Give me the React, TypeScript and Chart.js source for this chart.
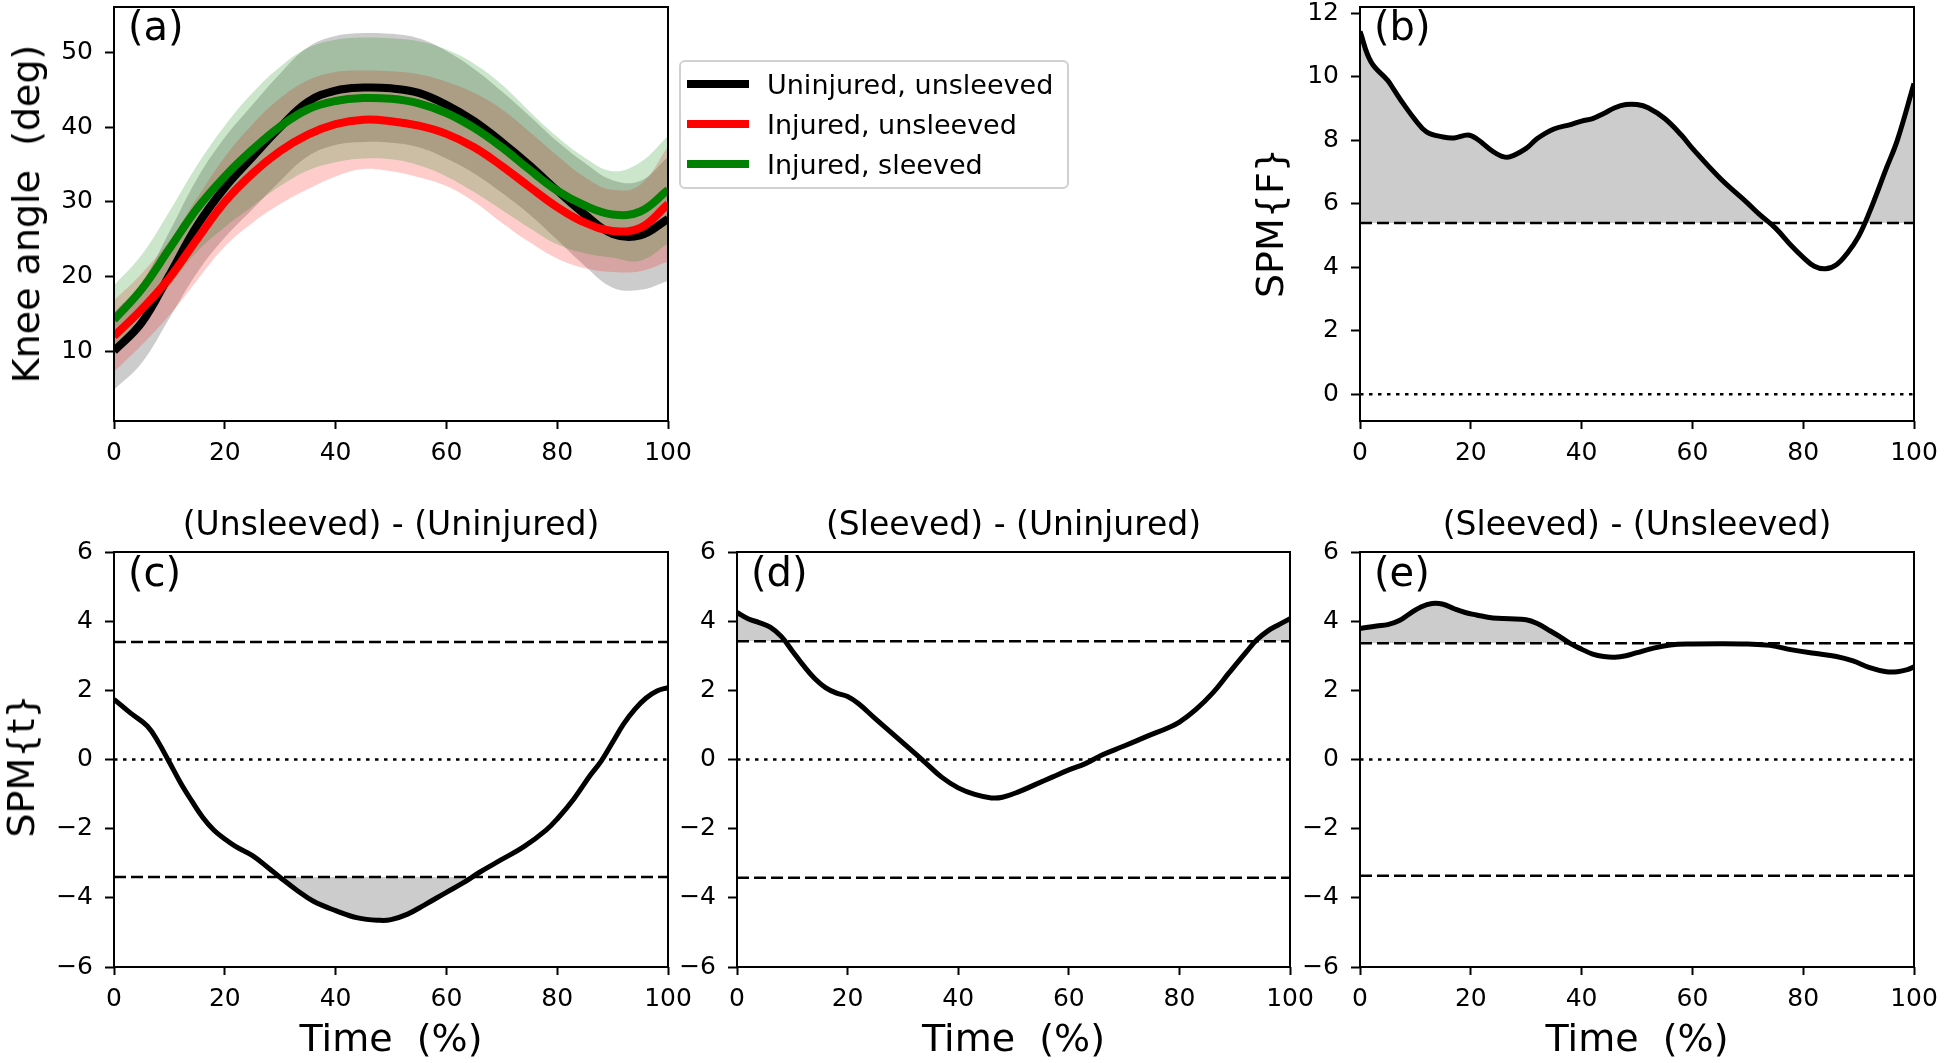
import React, { useEffect, useRef } from 'react';
import { Chart, registerables } from 'chart.js';

Chart.register(...registerables);

const FONT = "'DejaVu Sans', 'Liberation Sans', sans-serif";
const GRAY = '#cccccc';

// ---------- Panel (a): knee angle (deg) ----------
const timeA = [0, 5, 10, 15, 20, 25, 30, 35, 40, 45, 50, 55, 60, 65, 70, 75, 80, 85, 90, 95, 100];
const uninjuredMean = [10.0, 13.8, 20.2, 26.8, 31.9, 36.0, 40.0, 43.4, 44.9, 45.3, 45.2, 44.6, 43.0, 40.8, 38.0, 34.9, 31.5, 28.3, 25.7, 25.5, 27.7];
const uninjuredSd = [5.2, 5.4, 5.8, 6.3, 6.7, 7.0, 7.2, 7.3, 7.3, 7.3, 7.3, 7.3, 7.2, 7.0, 6.8, 6.6, 6.6, 6.9, 7.2, 7.3, 8.3];
const injuredMean = [12.0, 15.6, 19.8, 25.0, 30.0, 33.8, 36.8, 39.0, 40.4, 41.0, 40.8, 40.2, 39.1, 37.3, 34.8, 32.0, 29.3, 27.2, 26.1, 26.5, 29.7];
const injuredSd = [4.8, 4.8, 5.0, 5.5, 6.0, 6.6, 7.1, 7.3, 7.0, 6.6, 6.7, 6.9, 7.0, 7.3, 7.6, 7.4, 6.9, 6.1, 5.5, 5.8, 7.7];
const sleevedMean = [14.2, 18.3, 23.7, 29.1, 33.4, 37.0, 40.1, 42.4, 43.5, 43.9, 43.8, 43.2, 41.9, 39.9, 37.3, 34.3, 31.5, 29.5, 28.3, 28.7, 31.6];
const sleevedSd = [4.6, 4.6, 5.0, 5.8, 6.8, 7.6, 8.0, 8.2, 8.2, 8.1, 8.1, 8.3, 8.5, 8.6, 8.4, 7.8, 7.2, 6.4, 5.8, 6.6, 7.2];
const legendLabels = ['Uninjured, unsleeved', 'Injured, unsleeved', 'Injured, sleeved'];
const seriesColors = ['#000000', '#ff0000', '#008000'];
const bandColors = ['rgba(0,0,0,0.2)', 'rgba(255,0,0,0.2)', 'rgba(0,128,0,0.2)'];

// ---------- Panel (b): SPM{F} ----------
const timeB = [0, 2, 5, 6, 8, 10, 12, 15, 17, 19.5, 21, 24, 25.5, 27, 30, 32, 35, 38, 40, 42, 44, 46, 48, 50, 52, 55, 58, 60, 65, 70, 72, 75, 78, 80, 82, 84, 86, 88, 90, 92, 95, 97, 100];
const spmF = [11.42, 10.46, 9.88, 9.62, 9.1, 8.63, 8.26, 8.1, 8.07, 8.16, 8.05, 7.64, 7.5, 7.47, 7.74, 8.05, 8.35, 8.49, 8.6, 8.68, 8.84, 9.02, 9.12, 9.12, 9.02, 8.68, 8.16, 7.74, 6.8, 6.01, 5.68, 5.23, 4.65, 4.31, 4.03, 3.95, 4.08, 4.45, 4.97, 5.75, 7.11, 8.0, 9.78];
const thresholdF = 5.39;

// ---------- Panel (c): (Unsleeved) - (Uninjured) ----------
const timeC = [0, 3, 6, 8, 10, 12, 14, 16, 18, 20, 22, 25, 28, 30, 33, 36, 40, 44, 48, 50, 53, 56, 60, 63, 66, 70, 74, 78, 80, 83, 86, 88, 90, 92, 94, 96, 98, 100];
const spmTc = [1.74, 1.34, 0.97, 0.5, -0.08, -0.67, -1.19, -1.67, -2.04, -2.3, -2.52, -2.78, -3.15, -3.41, -3.78, -4.1, -4.37, -4.58, -4.65, -4.63, -4.47, -4.21, -3.84, -3.57, -3.26, -2.89, -2.52, -2.04, -1.72, -1.14, -0.45, -0.03, 0.5, 1.03, 1.45, 1.77, 1.98, 2.08];
const thresholdC = 3.4;

// ---------- Panel (d): (Sleeved) - (Uninjured) ----------
const timeD = [0, 2, 4, 6, 8, 10, 12, 14, 16, 18, 20, 22, 25, 28, 31, 34, 37, 40, 43, 46, 48, 51, 54, 57, 60, 63, 66, 70, 74, 78, 80, 83, 86, 89, 92, 94, 96, 98, 100];
const spmTd = [4.25, 4.07, 3.96, 3.83, 3.56, 3.14, 2.72, 2.35, 2.08, 1.92, 1.82, 1.61, 1.18, 0.76, 0.34, -0.08, -0.51, -0.82, -1.01, -1.11, -1.09, -0.93, -0.72, -0.51, -0.3, -0.12, 0.13, 0.39, 0.66, 0.92, 1.08, 1.45, 1.92, 2.51, 3.09, 3.46, 3.72, 3.9, 4.07];
const thresholdD = 3.42;

// ---------- Panel (e): (Sleeved) - (Unsleeved) ----------
const timeE = [0, 3, 5, 7, 9, 11, 13, 15, 17, 19, 21, 24, 27, 30, 32, 34, 36, 38, 40, 42, 44, 46, 48, 50, 53, 56, 60, 65, 70, 74, 78, 82, 86, 89, 92, 95, 97, 99, 100];
const spmTe = [3.79, 3.86, 3.9, 4.01, 4.22, 4.41, 4.51, 4.49, 4.36, 4.25, 4.18, 4.09, 4.07, 4.04, 3.93, 3.75, 3.56, 3.35, 3.19, 3.05, 2.98, 2.96, 3.0, 3.09, 3.22, 3.31, 3.34, 3.35, 3.34, 3.3, 3.17, 3.07, 2.98, 2.85, 2.66, 2.54, 2.54, 2.61, 2.68];
const thresholdE = 3.36;

const panelTitles = ['(Unsleeved) - (Uninjured)', '(Sleeved) - (Uninjured)', '(Sleeved) - (Unsleeved)'];

// ---------- layout ----------
type Box = { l: number; t: number; r: number; b: number };
const boxA: Box = { l: 114, t: 7, r: 668, b: 421 };
const boxB: Box = { l: 1360, t: 7, r: 1914, b: 421 };
const boxC: Box = { l: 114, t: 552, r: 668, b: 967 };
const boxD: Box = { l: 737, t: 552, r: 1290, b: 967 };
const boxE: Box = { l: 1360, t: 552, r: 1914, b: 967 };

const YW = 70, XH = 55, PADL = 4, PADT = 24, PADR = 32, PADB = 4;

function canvasRect(b: Box) {
  return {
    left: b.l - YW - PADL,
    top: b.t - PADT,
    width: b.r - b.l + YW + PADL + PADR,
    height: b.b - b.t + PADT + XH + PADB,
  };
}

const pts = (xs: number[], ys: number[]) => xs.map((x, i) => ({ x, y: ys[i] }));
const fmt = (v: number) => (v < 0 ? '\u2212' + Math.abs(v) : String(v));

const framePlugin = {
  id: 'frame',
  afterDatasetsDraw(chart: any) {
    const { ctx, chartArea: a } = chart;
    ctx.save();
    ctx.strokeStyle = '#000';
    ctx.lineWidth = 2;
    ctx.strokeRect(a.left, a.top, a.right - a.left, a.bottom - a.top);
    ctx.restore();
  },
};

function zeroPaddings(s: any) {
  s.paddingLeft = 0;
  s.paddingRight = 0;
  s.paddingTop = 0;
  s.paddingBottom = 0;
}

function baseOptions(ymin: number, ymax: number, ystep: number): any {
  const gridCfg = (len: number) => ({
    display: true,
    drawOnChartArea: false,
    drawTicks: true,
    tickLength: len,
    tickWidth: 2,
    tickColor: '#000',
    color: '#000',
  });
  return {
    animation: false,
    responsive: false,
    devicePixelRatio: 1,
    events: [],
    layout: { padding: { left: PADL, top: PADT, right: PADR, bottom: PADB } },
    elements: { line: { tension: 0.4, cubicInterpolationMode: 'default' } },
    plugins: {
      legend: { display: false },
      tooltip: { enabled: false },
      title: { display: false },
      filler: { drawTime: 'beforeDatasetsDraw', propagate: false },
    },
    scales: {
      x: {
        type: 'linear',
        min: 0,
        max: 100,
        ticks: {
          stepSize: 20,
          includeBounds: false,
          autoSkip: false,
          maxRotation: 0,
          padding: 9,
          color: '#000',
          font: { family: FONT, size: 25 },
          callback: (v: number) => fmt(v),
        },
        grid: gridCfg(8),
        border: { display: false },
        afterFit: (s: any) => {
          s.height = XH;
          zeroPaddings(s);
        },
      },
      y: {
        type: 'linear',
        min: ymin,
        max: ymax,
        ticks: {
          stepSize: ystep,
          includeBounds: false,
          padding: 12,
          color: '#000',
          font: { family: FONT, size: 25 },
          callback: (v: number) => fmt(v),
        },
        grid: gridCfg(9),
        border: { display: false },
        afterFit: (s: any) => {
          s.width = YW;
          zeroPaddings(s);
        },
      },
    },
  };
}

function hLine(y: number, dash: number[]) {
  return {
    data: [{ x: 0, y }, { x: 100, y }],
    borderColor: '#000',
    borderWidth: 2.5,
    borderDash: dash,
    pointRadius: 0,
    fill: false,
    tension: 0,
    order: 5,
  };
}

function configA(): any {
  const series = [
    [uninjuredMean, uninjuredSd],
    [injuredMean, injuredSd],
    [sleevedMean, sleevedSd],
  ];
  const datasets: any[] = [];
  series.forEach(([mean, sd], k) => {
    const base = datasets.length;
    datasets.push({
      label: legendLabels[k],
      data: pts(timeA, mean),
      borderColor: seriesColors[k],
      borderWidth: 8,
      pointRadius: 0,
      fill: false,
      clip: 0,
      order: 3 - k,
    });
    datasets.push({
      data: pts(timeA, mean.map((m, i) => m + sd[i])),
      borderColor: 'rgba(0,0,0,0)',
      borderWidth: 0,
      pointRadius: 0,
      fill: false,
      order: 6 - k,
    });
    datasets.push({
      data: pts(timeA, mean.map((m, i) => m - sd[i])),
      borderColor: 'rgba(0,0,0,0)',
      backgroundColor: bandColors[k],
      borderWidth: 0,
      pointRadius: 0,
      fill: base + 1,
      order: 6 - k,
    });
  });
  return { type: 'line', data: { datasets }, options: baseOptions(0.63, 56.1, 10), plugins: [framePlugin] };
}

function spmConfig(xs: number[], ys: number[], thr: number, twoSided: boolean, side: 'above' | 'below', ymin: number, ymax: number, ystep: number): any {
  const fillTarget = side === 'above' ? thr : -thr;
  const datasets: any[] = [
    {
      data: pts(xs, ys),
      borderColor: '#000',
      backgroundColor: GRAY,
      borderWidth: 5,
      pointRadius: 0,
      tension: 0.4,
      clip: 0,
      order: 1,
      fill: {
        target: { value: fillTarget },
        above: side === 'above' ? GRAY : 'rgba(0,0,0,0)',
        below: side === 'below' ? GRAY : 'rgba(0,0,0,0)',
      },
    },
    hLine(thr, [12, 5]),
    hLine(0, [3.5, 5.5]),
  ];
  if (twoSided) datasets.push(hLine(-thr, [12, 5]));
  return { type: 'line', data: { datasets }, options: baseOptions(ymin, ymax, ystep), plugins: [framePlugin] };
}

function ChartCanvas({ box, make }: { box: Box; make: () => any }) {
  const ref = useRef<HTMLCanvasElement | null>(null);
  useEffect(() => {
    if (!ref.current) return;
    const chart = new Chart(ref.current, make());
    return () => chart.destroy();
  }, []);
  const r = canvasRect(box);
  return (
    <canvas
      ref={ref}
      width={r.width}
      height={r.height}
      style={{ position: 'absolute', left: r.left, top: r.top, width: r.width, height: r.height }}
    />
  );
}

function Txt({ x, y, size, text, rotate, left }: { x: number; y: number; size: number; text: string; rotate?: boolean; left?: boolean }) {
  const style: React.CSSProperties = {
    position: 'absolute',
    left: x,
    top: y,
    transform: left ? 'translate(0,-50%)' : `translate(-50%,-50%)${rotate ? ' rotate(-90deg)' : ''}`,
    fontFamily: FONT,
    fontSize: size,
    lineHeight: 1,
    whiteSpace: 'pre',
    color: '#000',
  };
  return <div style={style}>{text}</div>;
}

function Legend() {
  const rowY = [22, 62, 102];
  return (
    <div
      style={{
        position: 'absolute',
        left: 679,
        top: 60,
        width: 390,
        height: 129,
        boxSizing: 'border-box',
        border: '2px solid #d0d0d0',
        borderRadius: 6,
        background: 'rgba(255,255,255,0.8)',
      }}
    >
      {legendLabels.map((lab, i) => (
        <React.Fragment key={lab}>
          <div style={{ position: 'absolute', left: 6, top: rowY[i] - 4, width: 62, height: 8, background: seriesColors[i] }} />
          <div
            style={{
              position: 'absolute',
              left: 86,
              top: rowY[i],
              transform: 'translate(0,-50%)',
              fontFamily: FONT,
              fontSize: 27,
              lineHeight: 1,
              whiteSpace: 'pre',
              color: '#000',
            }}
          >
            {lab}
          </div>
        </React.Fragment>
      ))}
    </div>
  );
}

export default function App() {
  const cx = (b: Box) => (b.l + b.r) / 2;
  return (
    <div style={{ position: 'fixed', left: 0, top: 0, width: 1944, height: 1063, background: '#fff', overflow: 'hidden' }}>
      <ChartCanvas box={boxA} make={configA} />
      <ChartCanvas box={boxB} make={() => spmConfig(timeB, spmF, thresholdF, false, 'above', -0.84, 12.19, 2)} />
      <ChartCanvas box={boxC} make={() => spmConfig(timeC, spmTc, thresholdC, true, 'below', -6, 6, 2)} />
      <ChartCanvas box={boxD} make={() => spmConfig(timeD, spmTd, thresholdD, true, 'above', -6, 6, 2)} />
      <ChartCanvas box={boxE} make={() => spmConfig(timeE, spmTe, thresholdE, true, 'above', -6, 6, 2)} />

      <Legend />

      <Txt x={26} y={214} size={38} text={'Knee angle  (deg)'} rotate />
      <Txt x={1270} y={223} size={38} text={'SPM{F}'} rotate />
      <Txt x={21} y={766} size={38} text={'SPM{t}'} rotate />

      <Txt x={cx(boxC)} y={522.5} size={33} text={panelTitles[0]} />
      <Txt x={cx(boxD)} y={522.5} size={33} text={panelTitles[1]} />
      <Txt x={cx(boxE)} y={522.5} size={33} text={panelTitles[2]} />

      <Txt x={cx(boxC)} y={1037.5} size={38} text={'Time  (%)'} />
      <Txt x={cx(boxD)} y={1037.5} size={38} text={'Time  (%)'} />
      <Txt x={cx(boxE)} y={1037.5} size={38} text={'Time  (%)'} />

      <Txt x={boxA.l + 14} y={boxA.t + 19} size={40} text={'(a)'} left />
      <Txt x={boxB.l + 14} y={boxB.t + 19} size={40} text={'(b)'} left />
      <Txt x={boxC.l + 14} y={boxC.t + 20} size={40} text={'(c)'} left />
      <Txt x={boxD.l + 14} y={boxD.t + 20} size={40} text={'(d)'} left />
      <Txt x={boxE.l + 14} y={boxE.t + 20} size={40} text={'(e)'} left />
    </div>
  );
}
